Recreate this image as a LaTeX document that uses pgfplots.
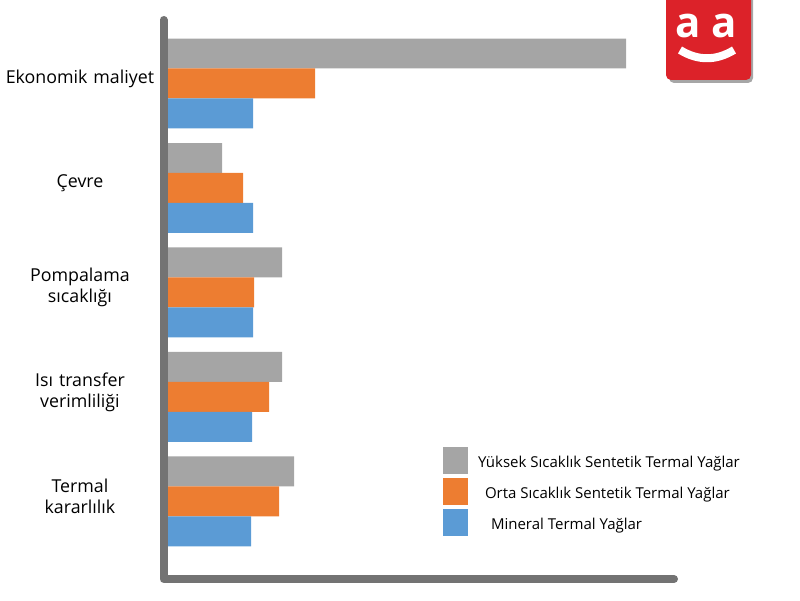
\documentclass[border=0pt]{standalone}
\usepackage{pgfplots}
\pgfplotsset{compat=1.18}
\usepackage{fontspec}
\setmainfont{Open Sans}
\definecolor{cgray}{HTML}{A5A5A5}
\definecolor{corange}{HTML}{ED7D31}
\definecolor{cblue}{HTML}{5B9BD5}
\definecolor{caxis}{HTML}{737373}
\definecolor{clogo}{HTML}{DC2229}
\pgfplotsset{sq/.style={legend image code/.code={\fill (0pt,-11.5pt) rectangle (25pt,15.5pt);}}}
\begin{document}
\begin{tikzpicture}[x=1pt,y=1pt]
\path[use as bounding box] (0,0) rectangle (800,600);
\begin{axis}[
  at={(163.5pt,21pt)}, anchor=south west,
  scale only axis, width=514.5pt, height=563pt,
  xbar, bar width=0.287,
  xmin=-4.5, xmax=510, ymin=0.258, ymax=5.646,
  axis line style={draw=none},
  xtick=\empty,
  ytick={1,2,3,4,5},
  yticklabels={Termal\\kararlılık, Isı transfer\\verimliliği, Pompalama\\sıcaklığı, Çevre, Ekonomik maliyet},
  yticklabel style={align=center, text width=156pt, font=\fontsize{17.8}{21}\selectfont, xshift=-2pt, yshift=5pt},
  major tick length=0pt,
  clip=false,
  legend cell align=left,
  legend style={at={(0.5433,0.2345)}, anchor=north west, draw=none, fill=none,
    inner sep=0pt, outer sep=0pt, row sep=4pt, column sep=8pt,
    font=\fontsize{15}{17}\selectfont},
]
\addplot[fill=cgray, draw=none, bar shift=0.287, sq] coordinates {(458,5) (54,4) (114,3) (114,2) (126,1)};
\addlegendentry{Yüksek Sıcaklık Sentetik Termal Yağlar}
\addplot[fill=corange, draw=none, bar shift=0, sq] coordinates {(147,5) (75,4) (86,3) (101,2) (111,1)};
\addlegendentry{\hspace{7pt}Orta Sıcaklık Sentetik Termal Yağlar}
\addplot[fill=cblue, draw=none, bar shift=-0.287, sq] coordinates {(85,5) (85,4) (85,3) (84,2) (83,1)};
\addlegendentry{\hspace{13pt}Mineral Termal Yağlar}
\draw[caxis, line width=8pt, line cap=round, line join=round]
  (axis cs:-4.5,5.608) -- (axis cs:-4.5,0.258) -- (axis cs:506,0.258);
\end{axis}
% logo
\fill[black!35, rounded corners=5pt] (669,517) rectangle (753,610);
\fill[clogo, rounded corners=5pt] (666,520) rectangle (751,610);
\node[white, font=\fontsize{42}{42}\bfseries\selectfont] at (688,574) {a};
\node[white, font=\fontsize{42}{42}\bfseries\selectfont] at (724,574) {a};
\draw[white, line width=8pt] (680,550) .. controls (698,539) and (716,539) .. (734,550);
\end{tikzpicture}
\end{document}
